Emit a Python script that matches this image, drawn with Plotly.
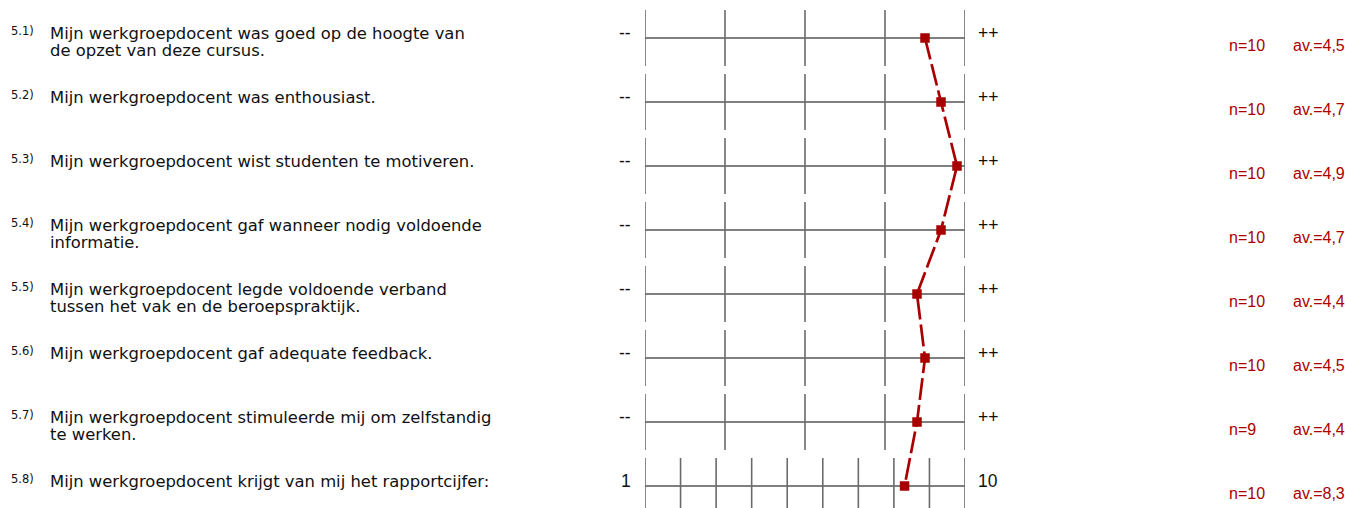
import plotly.graph_objects as go

# --- data -------------------------------------------------------------
item_ids = ["5.1)", "5.2)", "5.3)", "5.4)", "5.5)", "5.6)", "5.7)", "5.8)"]
questions = [
    "Mijn werkgroepdocent was goed op de hoogte van\nde opzet van deze cursus.",
    "Mijn werkgroepdocent was enthousiast.",
    "Mijn werkgroepdocent wist studenten te motiveren.",
    "Mijn werkgroepdocent gaf wanneer nodig voldoende\ninformatie.",
    "Mijn werkgroepdocent legde voldoende verband\ntussen het vak en de beroepspraktijk.",
    "Mijn werkgroepdocent gaf adequate feedback.",
    "Mijn werkgroepdocent stimuleerde mij om zelfstandig\nte werken.",
    "Mijn werkgroepdocent krijgt van mij het rapportcijfer:",
]
scale_min = [1, 1, 1, 1, 1, 1, 1, 1]
scale_max = [5, 5, 5, 5, 5, 5, 5, 10]
left_labels = ["--", "--", "--", "--", "--", "--", "--", "1"]
right_labels = ["++", "++", "++", "++", "++", "++", "++", "10"]
n_values = [10, 10, 10, 10, 10, 10, 9, 10]
averages = [4.5, 4.7, 4.9, 4.7, 4.4, 4.5, 4.4, 8.3]

# --- layout helpers ---------------------------------------------------
W, H = 1345, 508
ROW_PX = 64.0          # pixel distance between rows
FIRST_ROW_PX = 38.0    # pixel y of the first scale line
RED = "#a80000"
GREY = "#6a6a6a"
rows = list(range(1, len(questions) + 1))


def px_x(p):
    return p / W


def dy(px):
    return px / ROW_PX


# position of each average on its own scale, as a fraction 0..1
frac = [(a - lo) / (hi - lo) for a, lo, hi in zip(averages, scale_min, scale_max)]

fig = go.Figure()

shapes = []
for r, lo, hi in zip(rows, scale_min, scale_max):
    shapes.append(dict(type="line", xref="x", yref="y", x0=0, x1=1, y0=r, y1=r,
                       line=dict(color="#555555", width=1.5), layer="below"))
    k = hi - lo + 1
    for i in range(k):
        t = i / (k - 1)
        shapes.append(dict(type="line", xref="x", yref="y", x0=t, x1=t,
                           y0=r - dy(28), y1=r + dy(28),
                           line=dict(color=GREY, width=1.6), layer="below"))

fig.add_trace(go.Scatter(
    x=frac, y=rows, mode="lines+markers",
    line=dict(color=RED, width=2.7, dash="22px,5px"),
    marker=dict(symbol="square", size=9.5, color=RED),
    cliponaxis=False, showlegend=False, hoverinfo="skip",
))

annotations = []
for r, iid, q, ll, rl, n, av in zip(rows, item_ids, questions, left_labels,
                                    right_labels, n_values, averages):
    annotations.append(dict(x=px_x(9), y=r - dy(7.5), xref="paper", yref="y",
                            text=iid, showarrow=False, xanchor="left", yanchor="middle",
                            font=dict(family="DejaVu Sans", size=11.5, color="#111")))
    for j, line in enumerate(q.split("\n")):
        annotations.append(dict(x=px_x(48), y=r - dy(5) + dy(17 * j), xref="paper", yref="y",
                                text=line, showarrow=False, xanchor="left", yanchor="middle",
                                font=dict(family="DejaVu Sans", size=16.4, color="#111")))
    annotations.append(dict(x=px_x(633), y=r - dy(5.5), xref="paper", yref="y",
                            text=ll, showarrow=False, xanchor="right", yanchor="middle",
                            font=dict(family="Liberation Sans", size=17.5, color="#111")))
    annotations.append(dict(x=px_x(976), y=r - dy(5.5), xref="paper", yref="y",
                            text=rl, showarrow=False, xanchor="left", yanchor="middle",
                            font=dict(family="Liberation Sans", size=17.5, color="#111")))
    annotations.append(dict(x=px_x(1227), y=r + dy(7), xref="paper", yref="y",
                            text=f"n={n}", showarrow=False, xanchor="left", yanchor="middle",
                            font=dict(family="Liberation Sans", size=16, color=RED)))
    annotations.append(dict(x=px_x(1291), y=r + dy(7), xref="paper", yref="y",
                            text="av.=" + f"{av:.1f}".replace(".", ","), showarrow=False,
                            xanchor="left", yanchor="middle",
                            font=dict(family="Liberation Sans", size=16, color=RED)))

y_top = 1 - FIRST_ROW_PX / ROW_PX
y_bottom = 1 + (H - FIRST_ROW_PX) / ROW_PX

fig.update_layout(
    width=W, height=H,
    margin=dict(l=0, r=0, t=0, b=0),
    paper_bgcolor="white", plot_bgcolor="white",
    xaxis=dict(domain=[645 / W, 965 / W], range=[0, 1], visible=False, fixedrange=True),
    yaxis=dict(domain=[0, 1], range=[y_bottom, y_top], visible=False, fixedrange=True),
    shapes=shapes, annotations=annotations,
    font=dict(family="Liberation Sans"),
)

# drop the default page margin so the figure fills the window exactly
fig.write_html("out.html", config={"displayModeBar": False},
               post_script="document.body.style.margin='0';")
